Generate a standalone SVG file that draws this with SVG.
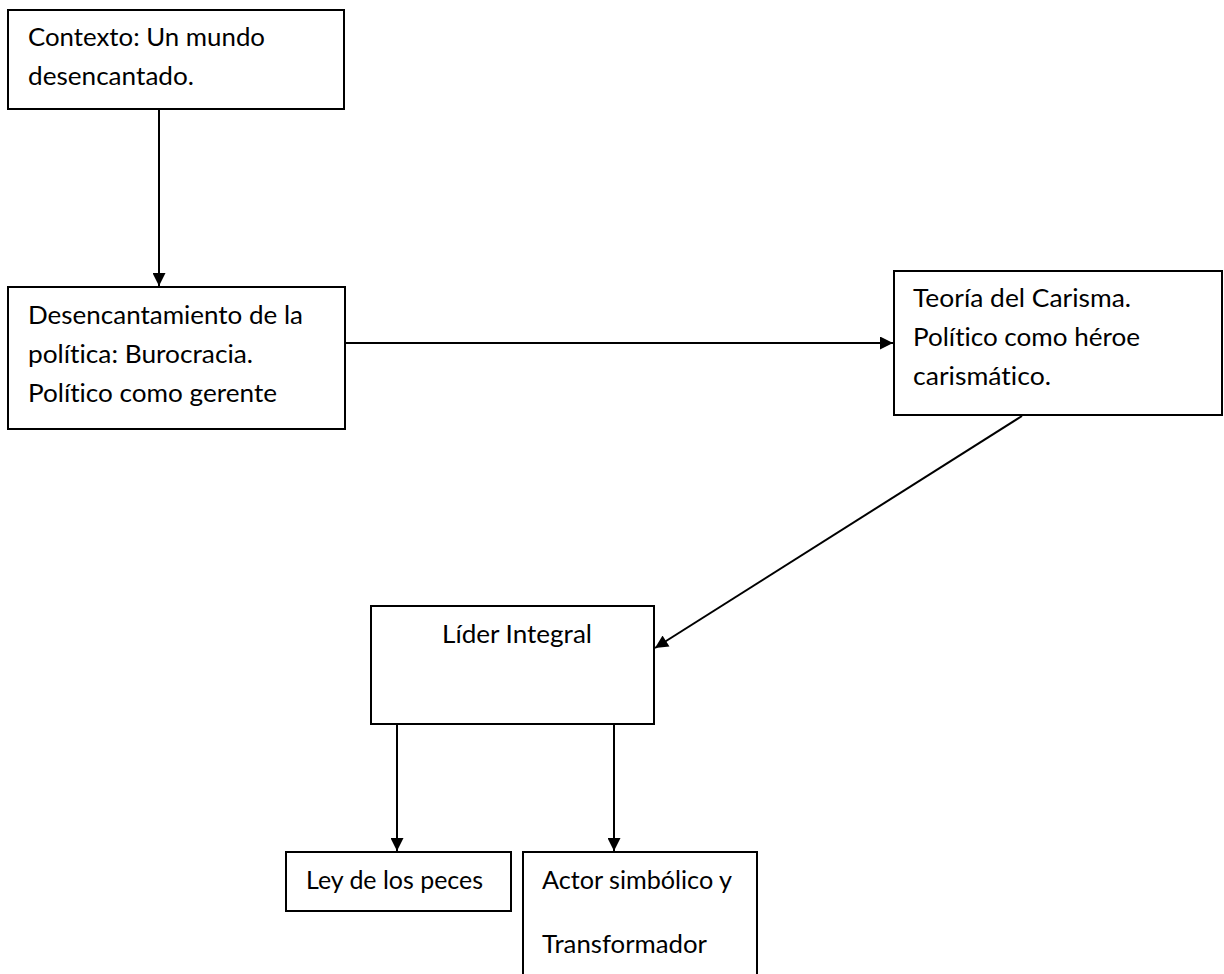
<svg xmlns="http://www.w3.org/2000/svg" width="1224" height="974" viewBox="0 0 1224 974">
<style>
.box{fill:#fff;stroke:#000;stroke-width:2}
.t{font-family:Lato,"Open Sans","Liberation Sans",sans-serif;font-size:24.5px;fill:#000;font-variant-ligatures:none;font-feature-settings:"liga" 0,"clig" 0}
.c{fill:none;stroke:#000;stroke-width:2}
</style>
<defs>
<marker id="ah" viewBox="0 0 10 10" refX="10" refY="5" markerWidth="14" markerHeight="13" markerUnits="userSpaceOnUse" orient="auto">
<path d="M0,0 L10,5 L0,10 z" fill="#000"/>
</marker>
</defs>
<rect width="1224" height="974" fill="#fff"/>
<g id="n1">
<rect class="box" x="8" y="10" width="336" height="99"/>
<text class="t" x="28" y="46" textLength="237" lengthAdjust="spacingAndGlyphs">Contexto: Un mundo</text>
<text class="t" x="28" y="85" textLength="166" lengthAdjust="spacingAndGlyphs">desencantado.</text>
</g>
<g id="n2">
<rect class="box" x="8" y="287" width="337" height="142"/>
<text class="t" x="28" y="324" textLength="275" lengthAdjust="spacingAndGlyphs">Desencantamiento de la</text>
<text class="t" x="28" y="363" textLength="225" lengthAdjust="spacingAndGlyphs">política: Burocracia.</text>
<text class="t" x="28" y="402" textLength="249" lengthAdjust="spacingAndGlyphs">Político como gerente</text>
</g>
<g id="n3">
<rect class="box" x="894" y="271" width="328" height="144"/>
<text class="t" x="913" y="307" textLength="218" lengthAdjust="spacingAndGlyphs">Teoría del Carisma.</text>
<text class="t" x="913" y="346" textLength="227" lengthAdjust="spacingAndGlyphs">Político como héroe</text>
<text class="t" x="913" y="385" textLength="138" lengthAdjust="spacingAndGlyphs">carismático.</text>
</g>
<g id="n4">
<rect class="box" x="371" y="606" width="283" height="118"/>
<text class="t" x="442" y="643" textLength="150" lengthAdjust="spacingAndGlyphs">Líder Integral</text>
</g>
<g id="n5">
<rect class="box" x="286" y="852" width="225" height="59"/>
<text class="t" x="306" y="889" textLength="177" lengthAdjust="spacingAndGlyphs">Ley de los peces</text>
</g>
<g id="n6">
<rect class="box" x="523" y="852" width="234" height="130"/>
<text class="t" x="542" y="889" textLength="190" lengthAdjust="spacingAndGlyphs">Actor simbólico y</text>
<text class="t" x="542" y="953" textLength="165" lengthAdjust="spacingAndGlyphs">Transformador</text>
</g>
<g id="connectors">
<line class="c" x1="159" y1="109" x2="159" y2="286" marker-end="url(#ah)"/>
<line class="c" x1="345" y1="343" x2="893" y2="343" marker-end="url(#ah)"/>
<line class="c" x1="1022" y1="416" x2="655" y2="648" marker-end="url(#ah)"/>
<line class="c" x1="397" y1="724" x2="397" y2="851" marker-end="url(#ah)"/>
<line class="c" x1="614" y1="724" x2="614" y2="851" marker-end="url(#ah)"/>
</g>
</svg>
